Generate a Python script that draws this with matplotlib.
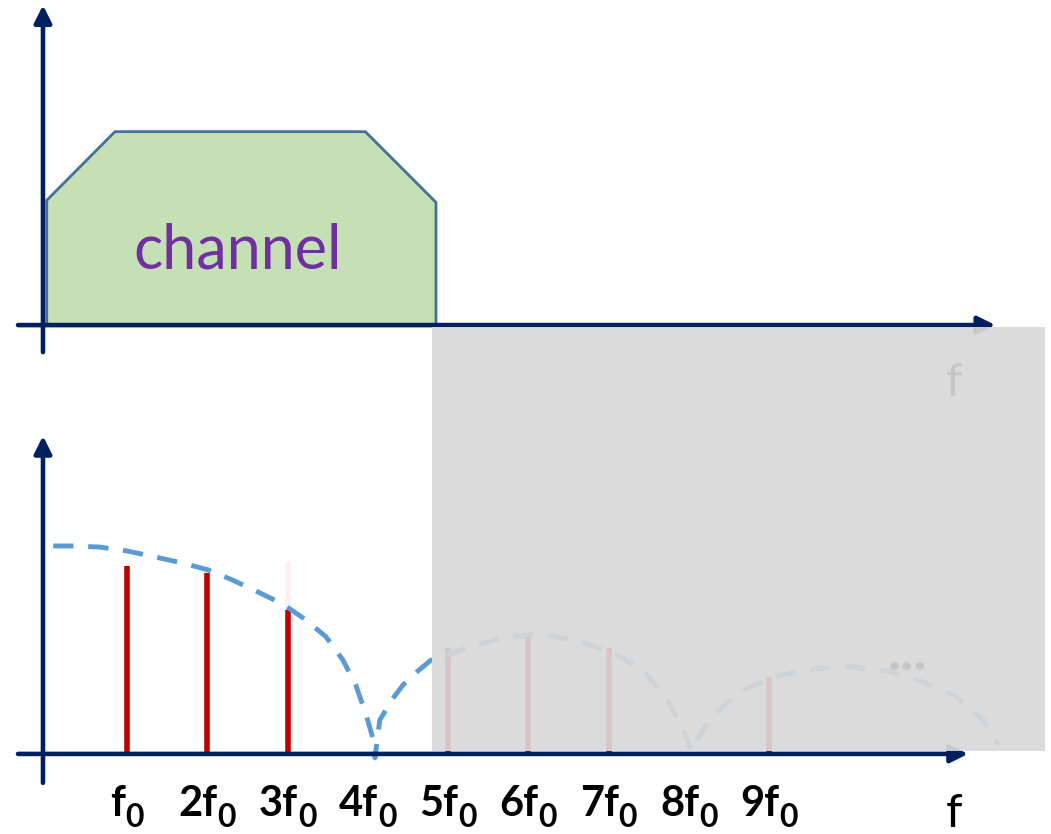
import numpy as np
import matplotlib.pyplot as plt
from matplotlib.patches import Polygon, Rectangle
from matplotlib.transforms import offset_copy

plt.rcParams['font.family'] = ['Lato', 'DejaVu Sans']

# ---- data (x in units of f0, y in % of main-lobe height) ----
channel_f    = [0.0, 0.85, 3.97, 4.85, 4.85, 0.0]
channel_gain = [60, 93, 93, 59, 0, 0]

harmonics      = [1, 2, 3, 5, 6, 7, 9]
harmonic_amp   = [90.4, 87.0, 69.0, 51.0, 57.0, 51.0, 37.0]
ghost_k        = [2, 3]          # faint leftovers above the red lines
ghost_lo       = [87.0, 69.0]
ghost_hi       = [91.0, 93.0]

env_k = [0.08, 0.31, 0.65, 1.00, 1.35, 1.69, 2.01, 2.31, 2.63, 2.94, 3.23, 3.48,
         3.69, 3.85, 3.98, 4.07, 4.09,
         4.15, 4.30, 4.44, 4.61, 4.79, 5.24, 5.67, 6.13, 6.58, 7.03, 7.43, 7.72,
         7.93, 8.04,
         8.14, 8.30, 8.68, 9.11, 9.55, 10.01, 10.47, 10.92, 11.32, 11.68, 11.86]
env_amp = [100, 100, 99.5, 97.6, 94.7, 91.8, 88.5, 83.7, 77.9, 72.1, 64.4, 56.3,
           45.2, 33.2, 18.8, 6.7, -1.9,
           16.3, 26, 33.2, 39.4, 45.2, 51, 55.8, 57.7, 54.8, 49, 40.4, 26.9,
           11.5, 1,
           9, 18.8, 30.8, 37.5, 40.9, 41.8, 39.9, 34.6, 27.9, 15.9, 4.3]

tick_k    = [1, 2, 3, 4, 5, 6, 7, 8, 9]
tick_main = ['f', '2f', '3f', '4f', '5f', '6f', '7f', '8f', '9f']
tick_sub  = '0'

NAVY  = '#002060'
RED   = '#C00000'
BLUE  = '#5B9BD5'
GREEN = '#C5E0B4'
EDGE  = '#41719C'
PURPLE = '#7030A0'

XLIM = (-0.5826, 12.514)

fig = plt.figure(figsize=(10.51, 8.34), dpi=100)
ax_top = fig.add_axes([0, 0.5, 1, 0.5])
ax_bot = fig.add_axes([0, 0.0, 1, 0.5])
ax_top.set_xlim(XLIM)
ax_bot.set_xlim(XLIM)
ax_top.set_ylim(-44.2, 156.3)
ax_bot.set_ylim(-38.5, 162.0)
for ax in (ax_top, ax_bot):
    ax.axis('off')


def axis_arrows(ax, x0, x1, y0, y1):
    ap = dict(arrowstyle='-|>', color=NAVY, lw=3.3, mutation_scale=26,
              shrinkA=0, shrinkB=0)
    ax.annotate('', xy=(x1, 0), xytext=(x0, 0), arrowprops=ap, zorder=4)
    ax.annotate('', xy=(-0.047, y1), xytext=(-0.047, y0), arrowprops=ap, zorder=4)


# ---- top panel: channel ----
ax_top.add_patch(Polygon(np.column_stack([channel_f, channel_gain]),
                         closed=True, facecolor=GREEN, edgecolor=EDGE, lw=2, zorder=2))
ax_top.text(2.38, 27.4, 'channel', color=PURPLE, fontsize=44,
            ha='center', va='baseline', zorder=3)
axis_arrows(ax_top, -0.358, 11.82, -13, 153.8)
ax_top.text(11.31, -34.1, 'f', fontsize=34, ha='center', va='baseline')

# ---- bottom panel: spectrum ----
ax_bot.vlines(ghost_k, ghost_lo, ghost_hi, colors='#FFF0F0', lw=4, zorder=2)
ax_bot.vlines(harmonics, 0, harmonic_amp, colors=RED, lw=4, zorder=2)
ax_bot.plot(env_k, env_amp, color=BLUE, lw=3.5, dashes=(4.2, 3), zorder=3)
ax_bot.text(10.72, 40.4, '...', fontsize=40, fontweight='bold',
            ha='center', va='baseline')
axis_arrows(ax_bot, -0.358, 11.48, -13.9, 152.9)

# tick labels: big bold "nf" plus a large, low subscript "0", centred as a pair
renderer = fig.canvas.get_renderer()
sub_tr = offset_copy(ax_bot.transData, fig=fig, y=-11, units='dots')
px_per_unit = fig.bbox.width / (XLIM[1] - XLIM[0])
for k, main in zip(tick_k, tick_main):
    t1 = ax_bot.text(k, -30.0, main, fontsize=30, fontweight='bold',
                     ha='right', va='baseline')
    t2 = ax_bot.text(k, -30.0, tick_sub, fontsize=23, fontweight='bold',
                     ha='left', va='baseline', transform=sub_tr)
    w1 = t1.get_window_extent(renderer).width
    w2 = t2.get_window_extent(renderer).width
    dx = (w1 - w2) / 2 / px_per_unit
    t1.set_x(k + dx)
    t2.set_x(k + dx)
ax_bot.text(11.31, -35.1, 'f', fontsize=34, ha='center', va='baseline')

# ---- grey cover over the out-of-band part ----
fig.add_artist(Rectangle((0.4110, 0.0995), 0.5833, 0.5084, transform=fig.transFigure,
                         facecolor='#D8D8D8', edgecolor='none', alpha=0.92, zorder=5))

fig.savefig('out.png', dpi=100)
